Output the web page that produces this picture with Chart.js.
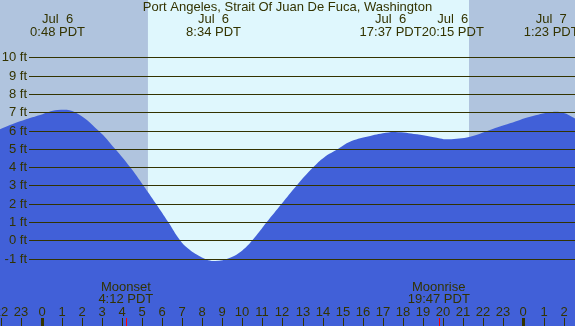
<!DOCTYPE html>
<html>
<head>
<meta charset="utf-8">
<script src="https://cdn.jsdelivr.net/npm/chart.js@4"></script>
<style>
    html, body { margin: 0; padding: 0; background: #fff; }
    .tide-chart { width: 575px; height: 326px; position: relative; }
</style>
</head>
<body>
<div class="tide-chart"><canvas id="tide"></canvas></div>
<script>
// tide curve: hours after midnight Jul 6, height in ft
const tideHours = [-2.07, -1.07, -0.07, 0.8, 1.67, 2.83, 3.66, 4.41, 5.07, 5.70, 6.31, 6.90, 7.3, 7.9, 8.57, 9.39, 10.0, 10.5, 11.22, 11.96, 12.71, 13.54, 14.07, 14.78, 15.36, 16.2, 17.0, 17.62, 18.7, 19.85, 20.25, 21.34, 22.33, 23.33, 24.33, 25.38, 25.97, 26.57];
const tideFeet = [6.07, 6.5, 6.85, 7.12, 7.0, 6.0, 5.0, 4.0, 3.0, 2.0, 1.0, 0, -0.45, -0.88, -1.13, -0.95, -0.55, 0, 1.0, 2.0, 3.0, 4.0, 4.53, 5.0, 5.39, 5.66, 5.85, 5.92, 5.79, 5.57, 5.52, 5.66, 6.03, 6.39, 6.75, 7.0, 6.97, 6.66];

const eventHours = [0.8, 8.567, 17.617, 20.25, 25.383];
const eventDates = ['Jul  6', 'Jul  6', 'Jul  6', 'Jul  6', 'Jul  7'];
const eventTimes = ['0:48 PDT', '8:34 PDT', '17:37 PDT', '20:15 PDT', '1:23 PDT'];

const moonHours = [4.2, 19.783];
const moonNames = ['Moonset', 'Moonrise'];
const moonTimes = ['4:12 PDT', '19:47 PDT'];

const sunriseHour = 5.3;
const sunsetHour = 21.29;

const feetTicks = [-1, 0, 1, 2, 3, 4, 5, 6, 7, 8, 9, 10];
const hourTicks = [-2, -1, 0, 1, 2, 3, 4, 5, 6, 7, 8, 9, 10, 11, 12, 13, 14, 15, 16, 17, 18, 19, 20, 21, 22, 23, 24, 25, 26];

const title = 'Port Angeles, Strait Of Juan De Fuca, Washington';

const textColor = '#333300';
const font = '13px "Liberation Sans", Arial, sans-serif';

const backdrop = {
    id: 'backdrop',
    beforeDatasetsDraw(chart) {
        const {ctx, chartArea} = chart;
        const x = chart.scales.x;
        const rise = x.getPixelForValue(sunriseHour);
        const set = x.getPixelForValue(sunsetHour);
        ctx.save();
        ctx.fillStyle = '#dff7fd';
        ctx.fillRect(chartArea.left, chartArea.top, chartArea.right - chartArea.left, chartArea.bottom - chartArea.top);
        ctx.fillStyle = '#b0c4de';
        ctx.fillRect(chartArea.left, chartArea.top, rise - chartArea.left, chartArea.bottom - chartArea.top);
        ctx.fillRect(set, chartArea.top, chartArea.right - set, chartArea.bottom - chartArea.top);
        ctx.restore();
    }
};

const overlay = {
    id: 'overlay',
    afterDatasetsDraw(chart) {
        const {ctx, chartArea} = chart;
        const x = chart.scales.x;
        const y = chart.scales.y;
        ctx.save();
        ctx.font = font;
        ctx.fillStyle = textColor;
        ctx.textBaseline = 'middle';

        // ft lines and labels
        feetTicks.forEach(ft => {
            const py = Math.round(y.getPixelForValue(ft)) + 0.5;
            ctx.strokeStyle = textColor;
            ctx.lineWidth = 1;
            ctx.beginPath();
            ctx.moveTo(29, py);
            ctx.lineTo(chartArea.right, py);
            ctx.stroke();
            ctx.textAlign = 'right';
            ctx.fillText(`${ft} ft`, 27, py);
        });

        // title
        ctx.textAlign = 'center';
        ctx.fillText(title, (chartArea.left + chartArea.right) / 2, 7);

        // tide events, pushed apart when they overlap
        const centers = eventHours.map(h => x.getPixelForValue(h));
        const widths = eventTimes.map(t => ctx.measureText(t).width);
        for (let i = 1; i < centers.length; i++) {
            const overlap = (centers[i - 1] + widths[i - 1] / 2) - (centers[i] - widths[i] / 2);
            if (overlap > 0) {
                centers[i - 1] -= overlap / 2;
                centers[i] += overlap / 2;
            }
        }
        centers.forEach((cx, i) => {
            ctx.fillText(eventDates[i], cx, 19);
            ctx.fillText(eventTimes[i], cx, 32);
        });

        // moon events
        moonHours.forEach((h, i) => {
            const px = x.getPixelForValue(h);
            ctx.fillText(moonNames[i], px, 287);
            ctx.fillText(moonTimes[i], px, 299.5);
            ctx.fillStyle = '#ff0000';
            ctx.fillRect(Math.round(px), 318, 1, 8);
            ctx.fillStyle = textColor;
        });

        // hour axis
        hourTicks.forEach(h => {
            const px = Math.round(x.getPixelForValue(h));
            const label = ((h % 24) + 24) % 24;
            ctx.fillText(String(label), px, 312);
            if (label === 0) {
                ctx.fillRect(px - 1, 318, 3, 8);
            } else {
                ctx.fillRect(px, 318, 1, 8);
            }
        });
        ctx.restore();
    }
};

new Chart(document.getElementById('tide'), {
    type: 'line',
    data: {
        datasets: [{
            data: tideHours.map((h, i) => ({x: h, y: tideFeet[i]})),
            borderWidth: 0,
            borderColor: 'rgba(0,0,0,0)',
            backgroundColor: '#4160d8',
            fill: 'start',
            pointRadius: 0,
            tension: 0.4
        }]
    },
    options: {
        responsive: true,
        maintainAspectRatio: false,
        animation: false,
        layout: {padding: 0},
        scales: {
            x: {type: 'linear', display: false, min: -2.067, max: 26.568},
            y: {type: 'linear', display: false, min: -4.68, max: 13.13}
        },
        plugins: {
            legend: {display: false},
            tooltip: {enabled: false}
        }
    },
    plugins: [backdrop, overlay]
});
</script>
</body>
</html>
